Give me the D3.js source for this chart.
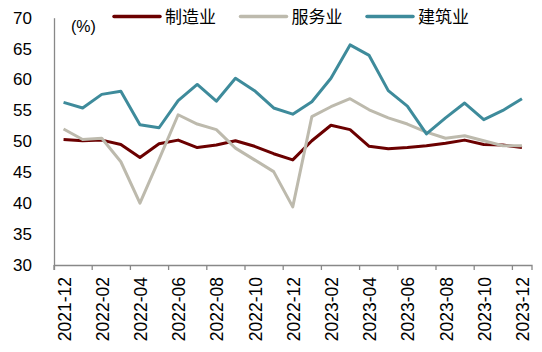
<!DOCTYPE html>
<html>
<head>
<meta charset="utf-8">
<script src="https://cdn.jsdelivr.net/npm/d3@7"></script>
<style>
  body { margin: 0; background: #fff; }
  svg text { font-family: "Liberation Sans", Arial, sans-serif; fill: #000; }
  .legend text { font-family: "Noto Sans CJK SC", sans-serif; }
</style>
</head>
<body>
<svg width="542" height="352"></svg>
<script>
// months 2021-12 .. 2023-12
const months = ["2021-12","2022-01","2022-02","2022-03","2022-04","2022-05","2022-06","2022-07","2022-08","2022-09","2022-10","2022-11","2022-12",
  "2023-01","2023-02","2023-03","2023-04","2023-05","2023-06","2023-07","2023-08","2023-09","2023-10","2023-11","2023-12"];
const manufacturing = [50.3,50.1,50.2,49.5,47.4,49.6,50.2,49.0,49.4,50.1,49.2,48.0,47.0,50.1,52.6,51.9,49.2,48.8,49.0,49.3,49.7,50.2,49.5,49.4,49.0];
const services = [52.0,50.3,50.5,46.7,40.0,47.1,54.3,52.8,51.9,48.9,47.0,45.1,39.4,54.0,55.6,56.9,55.1,53.8,52.8,51.5,50.5,50.9,50.1,49.3,49.3];
const construction = [56.3,55.4,57.6,58.1,52.7,52.2,56.6,59.2,56.5,60.2,58.2,55.4,54.4,56.4,60.2,65.6,63.9,58.2,55.7,51.2,53.8,56.2,53.5,55.0,56.9];
const yTicks = [30,35,40,45,50,55,60,65,70];
const seriesNames = ["制造业","服务业","建筑业"];
const colors = ["#6b0000","#bdbaad","#3e8b9b"];

const svg = d3.select("svg");
const x = d3.scaleBand().domain(months).range([54, 531.5]).padding(0);
const y = d3.scaleLinear().domain([30, 70]).range([265, 17.7]);
const bw = x.bandwidth();

// y axis
const yAxis = svg.append("g").attr("transform", "translate(54,0)")
  .call(d3.axisLeft(y).tickValues(yTicks).tickSize(0).tickPadding(22));
yAxis.select(".domain").attr("stroke", "#888").attr("stroke-width", 1.3);
yAxis.selectAll("text").attr("font-size", 17).attr("font-family", "Liberation Sans, Arial, sans-serif");

// x axis
const xAxis = svg.append("g").attr("transform", "translate(0,265)")
  .call(d3.axisBottom(x).tickValues(months.filter((d, i) => i % 2 == 0)).tickSizeOuter(0).tickSize(5));
xAxis.select(".domain").attr("stroke", "#888").attr("stroke-width", 1.3);
xAxis.selectAll(".tick line").attr("x1", -bw / 2).attr("x2", -bw / 2).attr("stroke", "#888").attr("stroke-width", 1.3);
xAxis.selectAll(".tick text")
  .attr("font-size", 17.5)
  .attr("font-family", "Liberation Sans, Arial, sans-serif")
  .attr("transform", "rotate(-90)")
  .attr("text-anchor", "end")
  .attr("x", -12).attr("y", 1).attr("dy", "0.35em");

// (%) label
svg.append("text").attr("x", 71).attr("y", 32).attr("font-size", 16).text("(%)");

// lines
const line = d3.line().x((d, i) => x(months[i]) + bw / 2).y(d => y(d));
[manufacturing, services, construction].forEach((s, k) => {
  svg.append("path").datum(s)
    .attr("d", line)
    .attr("fill", "none")
    .attr("stroke", colors[k])
    .attr("stroke-width", 3)
    .attr("stroke-linejoin", "round");
});

// legend
const legend = svg.append("g").attr("class", "legend");
seriesNames.forEach((name, k) => {
  const lx = 114 + k * 126.5;
  legend.append("line")
    .attr("x1", lx).attr("x2", lx + 46).attr("y1", 16.5).attr("y2", 16.5)
    .attr("stroke", colors[k]).attr("stroke-width", 3.5).attr("stroke-linecap", "round");
  legend.append("text")
    .attr("x", lx + 51).attr("y", 16.5).attr("dy", "0.36em")
    .attr("font-size", 17)
    .attr("font-family", "Noto Sans CJK SC, sans-serif")
    .text(name);
});
</script>
</body>
</html>
